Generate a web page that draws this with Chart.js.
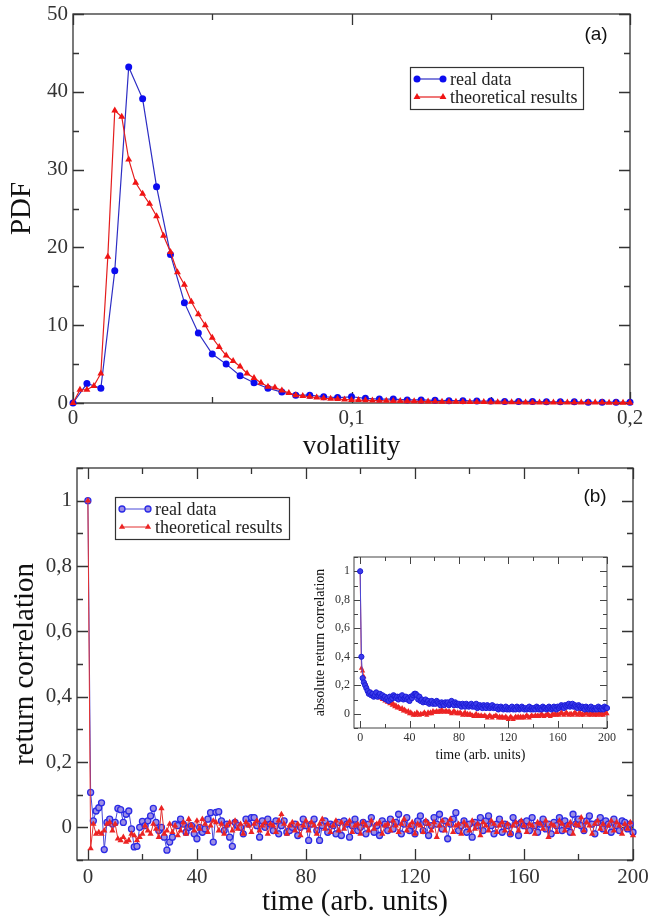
<!DOCTYPE html>
<html>
<head>
<meta charset="utf-8">
<script src="https://cdn.jsdelivr.net/npm/chart.js@4.4.1/dist/chart.umd.min.js"></script>
<style>
  html, body { margin: 0; padding: 0; background: #fff; }
  #wrap { position: relative; width: 649px; height: 917px; }
  canvas { position: absolute; }
  #pdfChart { left: 0; top: 0; }
  #corrChart { left: 0; top: 460px; }
  #absChart { left: 300px; top: 545px; }
</style>
</head>
<body>
<div id="wrap">
  <canvas id="pdfChart" width="649" height="460"></canvas>
  <canvas id="corrChart" width="649" height="457"></canvas>
  <canvas id="absChart" width="320" height="225"></canvas>
</div>
<script>
// ---- panel (a): volatility PDF ----
const realBinStep = 0.005;
const theoBinStep = 0.0025;
const pdfReal = [0, 2.5, 1.9, 17.0, 43.2, 39.1, 27.8, 19.1, 12.9, 9.0, 6.3, 5.0, 3.5, 2.6, 1.9, 1.4,
  1.0, 1.0, 0.8, 0.7, 0.8, 0.6, 0.5, 0.5, 0.4, 0.4, 0.35, 0.3, 0.3, 0.25, 0.25, 0.2, 0.2, 0.2,
  0.15, 0.15, 0.15, 0.1, 0.1, 0.1, 0.1];
const pdfTheo = [0, 1.7, 1.7, 2.2, 3.8, 18.8, 37.6, 36.8, 31.3, 28.3,
  26.9, 25.6, 24.0, 21.5, 19.4, 16.8, 15.2, 13.0, 11.4, 10.0,
  8.4, 7.2, 6.1, 5.4, 4.7, 3.8, 3.2, 2.6, 2.1, 2.0,
  1.6, 1.3, 1.0, 0.9, 0.8, 0.7, 0.6, 0.55, 0.5, 0.45,
  0.4, 0.38, 0.35, 0.33, 0.3, 0.28, 0.26, 0.25, 0.23, 0.22, 0.2,
  0.19, 0.18, 0.17, 0.16, 0.15, 0.14, 0.13, 0.12, 0.12, 0.11,
  0.1, 0.1, 0.09, 0.09, 0.08, 0.08, 0.07, 0.07, 0.07, 0.06,
  0.06, 0.06, 0.05, 0.05, 0.05, 0.05, 0.04, 0.04, 0.04, 0.04];
const pdfXTicks = [0, 0.1, 0.2];
const pdfYTicks = [0, 10, 20, 30, 40, 50];

// ---- panel (b): return correlation, lags 0..200 ----
const corrReal = [1,
  0.107, 0.02, 0.05, 0.06, 0.075, -0.068, 0.015, 0.025, 0.01, 0.015,
  0.058, 0.054, 0.015, 0.04, 0.05, -0.005, -0.06, -0.058, 0, 0.018,
  0.005, 0.02, 0.035, 0.058, 0.015, -0.01, 0, -0.03, -0.07, -0.045,
  -0.03, 0.01, 0.005, 0.025, 0.01, -0.015, 0, 0.005, -0.02, -0.035,
  0, -0.015, -0.005, 0.025, 0.045, -0.045, 0.046, 0.048, 0.02, -0.01,
  0.01, -0.03, -0.058, 0.015, 0.005, 0, -0.02, 0.025, 0.01, 0.03,
  0.03, 0.005, -0.03, 0.02, 0, 0.025, 0.01, -0.01, 0.02, -0.02,
  0.005, 0.02, -0.015, -0.01, 0, 0.01, -0.025, 0, 0.025, 0.005,
  -0.04, 0.01, 0.025, -0.01, -0.04, 0.005, 0.02, -0.015, 0.01, 0.005,
  -0.02, 0.015, -0.025, 0.02, 0.01, -0.03, 0.005, 0.025, -0.01, 0,
  0.015, -0.02, 0.01, 0.03, -0.015, 0.005, -0.025, 0.02, 0.01, -0.01,
  0.025, -0.005, 0.015, 0.04, -0.02, 0.01, 0.03, -0.01, 0.005, -0.02,
  0.02, 0.035, -0.01, 0.015, -0.025, 0.005, 0.03, 0.01, 0.04, -0.005,
  0.02, -0.035, 0.01, 0.025, 0.045, -0.01, 0.005, 0.02, -0.015, 0.01,
  -0.03, 0.015, 0.005, 0.03, -0.01, 0.02, 0.035, 0.005, -0.02, 0.01,
  0.025, -0.015, 0.01, 0.005, -0.02, 0.03, 0.01, -0.025, 0.015, 0.005,
  0.02, -0.01, 0.03, 0.005, -0.015, 0.01, 0.025, -0.005, 0.01, -0.02,
  0.015, 0.005, 0.03, -0.01, 0.02, 0.005, -0.015, 0.04, 0.01, 0.025,
  0.005, -0.01, 0.02, 0.035, 0.01, -0.02, 0.015, 0.03, -0.005, 0.02,
  0.01, -0.015, 0.025, 0.005, -0.01, 0.02, 0.015, -0.005, 0.01, -0.015];
const corrTheo = [1,
  -0.065, 0.01, -0.02, -0.015, -0.02, -0.01, 0.01, 0.015, -0.01, 0.01,
  -0.035, -0.04, -0.03, -0.045, -0.04, -0.02, -0.025, -0.04, -0.03, -0.02,
  0.005, -0.01, -0.02, 0.01, -0.005, -0.03, 0.058, -0.02, -0.01, 0.01,
  -0.015, 0.005, -0.025, -0.01, 0.015, -0.02, 0.025, 0.005, -0.01, 0.02,
  -0.005, 0.025, 0.01, -0.015, 0.005, 0.02, 0.015, -0.01, 0.01, -0.02,
  0.005, 0.015, -0.01, 0.02, -0.005, 0.01, -0.02, 0.015, 0.005, -0.015,
  0.01, 0.02, -0.01, 0.005, 0.015, -0.02, 0.01, 0.005, -0.015, 0.02,
  0.04, 0.01, -0.02, 0.005, 0.015, -0.01, 0.01, -0.025, 0.005, 0.02,
  -0.01, 0.015, 0.005, -0.02, 0.01, 0.025, -0.005, 0.01, -0.015, 0.005,
  0.02, -0.01, 0.015, -0.005, 0.01, 0.02, -0.015, 0.005, 0.01, -0.02,
  0.015, 0.005, -0.01, 0.02, -0.005, 0.01, 0.015, -0.02, 0.005, 0.01,
  -0.01, 0.02, 0.005, -0.015, 0.01, 0.025, -0.01, 0.005, 0.015, -0.02,
  0.01, 0.005, -0.015, 0.02, 0.01, -0.01, 0.015, -0.03, 0.005, 0.02,
  -0.01, 0.01, 0.025, -0.015, 0.005, 0.01, -0.02, 0.015, 0.005, -0.01,
  0.02, -0.005, 0.01, -0.025, 0.015, 0.005, -0.01, 0.02, 0.01, -0.015,
  0.005, 0.015, -0.01, 0.01, -0.02, 0.005, 0.015, -0.01, 0.02, 0.005,
  -0.015, 0.01, 0.005, -0.02, 0.015, 0.01, -0.005, 0.02, -0.03, 0.01,
  0.005, -0.015, 0.02, 0.01, -0.01, 0.005, 0.015, -0.02, 0.01, 0.005,
  0.03, -0.01, 0.015, 0.005, -0.02, 0.01, 0.02, -0.005, 0.01, -0.015,
  0.005, 0.02, -0.01, 0.015, 0.005, -0.02, 0.01, -0.005, 0.015, -0.025];
const corrXTicks = [0, 40, 80, 120, 160, 200];
const corrYTicks = [0, 0.2, 0.4, 0.6, 0.8, 1];

// ---- inset: absolute return correlation, lags 0..200 ----
const absReal = [1,
  0.4, 0.25, 0.22, 0.2, 0.18, 0.16, 0.14, 0.15, 0.13, 0.14,
  0.12, 0.13, 0.15, 0.12, 0.13, 0.14, 0.12, 0.13, 0.11, 0.12,
  0.1, 0.11, 0.09, 0.12, 0.1, 0.11, 0.13, 0.12, 0.11, 0.12,
  0.1, 0.12, 0.11, 0.13, 0.1, 0.11, 0.12, 0.1, 0.11, 0.09,
  0.12, 0.11, 0.13, 0.14, 0.14, 0.13, 0.1, 0.12, 0.09, 0.1,
  0.08, 0.09, 0.1, 0.08, 0.09, 0.07, 0.08, 0.09, 0.07, 0.08,
  0.07, 0.09, 0.08, 0.07, 0.06, 0.08, 0.07, 0.06, 0.08, 0.07,
  0.08, 0.06, 0.07, 0.09, 0.07, 0.06, 0.08, 0.07, 0.06, 0.07,
  0.06, 0.05, 0.07, 0.06, 0.05, 0.07, 0.06, 0.05, 0.06, 0.07,
  0.05, 0.06, 0.05, 0.07, 0.04, 0.05, 0.06, 0.05, 0.04, 0.06,
  0.05, 0.04, 0.06, 0.05, 0.04, 0.05, 0.06, 0.04, 0.05, 0.04,
  0.05, 0.03, 0.04, 0.05, 0.04, 0.03, 0.04, 0.05, 0.03, 0.04,
  0.03, 0.04, 0.05, 0.03, 0.04, 0.03, 0.05, 0.04, 0.03, 0.04,
  0.05, 0.04, 0.03, 0.04, 0.03, 0.04, 0.05, 0.03, 0.04, 0.03,
  0.04, 0.03, 0.05, 0.04, 0.03, 0.04, 0.03, 0.05, 0.04, 0.04,
  0.03, 0.04, 0.05, 0.04, 0.03, 0.04, 0.05, 0.04, 0.03, 0.05,
  0.04, 0.05, 0.06, 0.05, 0.04, 0.06, 0.05, 0.06, 0.07, 0.05,
  0.06, 0.07, 0.05, 0.06, 0.05, 0.04, 0.06, 0.05, 0.04, 0.05,
  0.04, 0.03, 0.05, 0.04, 0.03, 0.04, 0.05, 0.03, 0.04, 0.03,
  0.04, 0.03, 0.05, 0.04, 0.03, 0.04, 0.03, 0.05, 0.04, 0.04];
const absTheo = [1,
  0.32, 0.3, 0.26, 0.22, 0.2, 0.17, 0.15, 0.14, 0.15, 0.13,
  0.14, 0.12, 0.13, 0.12, 0.13, 0.11, 0.12, 0.1, 0.11, 0.09,
  0.1, 0.08, 0.09, 0.07, 0.08, 0.06, 0.07, 0.05, 0.06, 0.04,
  0.05, 0.04, 0.03, 0.04, 0.02, 0.03, 0.02, 0.01, 0.02, 0,
  0.01, 0, -0.01, 0, -0.01, 0.01, 0, -0.01, 0, -0.005,
  0, 0.01, 0, -0.01, 0.01, 0, 0.01, 0, 0.02, 0.01,
  0.01, 0.02, 0.01, 0.02, 0.01, 0.03, 0.02, 0.01, 0.02, 0.02,
  0.01, 0.02, 0.01, 0, 0.01, 0.02, 0.01, 0, 0.01, 0,
  0.01, 0, -0.01, 0, 0.01, -0.01, 0, -0.01, 0, -0.01,
  -0.01, -0.02, -0.01, 0, -0.02, -0.01, -0.02, -0.01, -0.02, -0.02,
  -0.01, -0.02, -0.03, -0.02, -0.01, -0.02, -0.03, -0.02, -0.02, -0.01,
  -0.02, -0.03, -0.02, -0.03, -0.02, -0.03, -0.03, -0.02, -0.03, -0.04,
  -0.03, -0.02, -0.03, -0.04, -0.03, -0.02, -0.03, -0.02, -0.03, -0.02,
  -0.03, -0.02, -0.03, -0.02, -0.01, -0.02, -0.03, -0.02, -0.01, -0.02,
  -0.02, -0.01, -0.02, -0.01, -0.02, -0.01, 0, -0.01, -0.02, -0.01,
  -0.01, 0, -0.01, -0.02, -0.01, 0, -0.01, 0, -0.01, 0,
  -0.01, 0, 0.01, 0, -0.01, 0, 0.01, 0, -0.01, 0,
  0, -0.01, 0, 0.01, 0, -0.01, 0, 0.01, -0.01, 0,
  -0.01, 0, 0.01, 0, -0.01, 0, -0.01, 0.01, 0, -0.01,
  0, -0.01, 0, 0.01, -0.01, 0, -0.01, 0, 0.01, 0];
const absXTicks = [0, 40, 80, 120, 160, 200];
const absYTicks = [0, 0.2, 0.4, 0.6, 0.8, 1];

const SERIF = '"Liberation Serif", "DejaVu Serif", serif';
const SANS = '"Liberation Sans", Arial, sans-serif';

function toPoints(values, step) {
  return values.map((v, i) => ({ x: i * step, y: v }));
}

function drawMarker(ctx, style, x, y, r, fill, stroke, lw) {
  ctx.beginPath();
  if (style === 'triangle') {
    ctx.moveTo(x, y - r);
    ctx.lineTo(x + r * 0.866, y + r * 0.5);
    ctx.lineTo(x - r * 0.866, y + r * 0.5);
    ctx.closePath();
  } else {
    ctx.arc(x, y, r, 0, Math.PI * 2);
  }
  ctx.fillStyle = fill;
  ctx.fill();
  if (lw > 0) {
    ctx.strokeStyle = stroke;
    ctx.lineWidth = lw;
    ctx.stroke();
  }
}

// frame with inward major/minor ticks on all four sides (xmgrace look)
const frameTicks = {
  id: 'frameTicks',
  beforeDatasetsDraw(chart, args, o) {
    const { ctx, chartArea: a, scales: { x, y } } = chart;
    ctx.save();
    ctx.strokeStyle = o.color;
    ctx.lineWidth = o.lineWidth;
    ctx.strokeRect(a.left, a.top, a.right - a.left, a.bottom - a.top);
    ctx.beginPath();
    const run = (scale, step, len, horiz) => {
      const first = Math.ceil(scale.min / step - 1e-9);
      const last = Math.floor(scale.max / step + 1e-9);
      for (let i = first; i <= last; i++) {
        const p = Math.round(scale.getPixelForValue(i * step)) + 0.5;
        if (horiz) {
          ctx.moveTo(p, a.bottom); ctx.lineTo(p, a.bottom - len);
          ctx.moveTo(p, a.top); ctx.lineTo(p, a.top + len);
        } else {
          ctx.moveTo(a.left, p); ctx.lineTo(a.left + len, p);
          ctx.moveTo(a.right, p); ctx.lineTo(a.right - len, p);
        }
      }
    };
    run(x, o.xMinor, o.minorLen, true);
    run(x, o.xMajor, o.majorLen, true);
    run(y, o.yMinor, o.minorLen, false);
    run(y, o.yMajor, o.majorLen, false);
    ctx.stroke();
    ctx.restore();
  }
};

// boxed legend + panel tag drawn inside the plot
const boxLegend = {
  id: 'boxLegend',
  afterDraw(chart, args, o) {
    const ctx = chart.ctx;
    ctx.save();
    if (o.box) {
      const b = o.box;
      ctx.fillStyle = '#fff';
      ctx.fillRect(b.x, b.y, b.w, b.h);
      ctx.strokeStyle = '#333';
      ctx.lineWidth = 1.2;
      ctx.strokeRect(b.x + 0.5, b.y + 0.5, b.w, b.h);
      chart.data.datasets.forEach((ds, i) => {
        const cy = b.y + b.rows[i];
        ctx.strokeStyle = ds.borderColor;
        ctx.lineWidth = ds.borderWidth;
        ctx.beginPath();
        ctx.moveTo(b.x + b.x0, cy);
        ctx.lineTo(b.x + b.x1, cy);
        ctx.stroke();
        [b.x0, b.x1].forEach(px => drawMarker(ctx, ds.pointStyle, b.x + px, cy, ds.pointRadius,
          ds.pointBackgroundColor, ds.pointBorderColor, ds.pointBorderWidth));
        ctx.fillStyle = '#222';
        ctx.font = 'normal ' + b.fontSize + 'px "Liberation Serif", serif';
        ctx.textBaseline = 'middle';
        ctx.textAlign = 'left';
        ctx.fillText(ds.label, b.x + b.tx, cy + 1);
      });
    }
    if (o.tag) {
      ctx.fillStyle = '#111';
      ctx.font = o.tag.size + 'px ' + SANS;
      ctx.textAlign = 'center';
      ctx.textBaseline = 'middle';
      ctx.fillText(o.tag.text, o.tag.x, o.tag.y);
    }
    ctx.restore();
  }
};

function makeAxis(o) {
  return {
    type: 'linear',
    min: o.min,
    max: o.max,
    grid: { display: false, drawTicks: false },
    border: { display: false },
    afterBuildTicks: s => { s.ticks = o.ticks.map(v => ({ value: v })); },
    afterFit: s => {
      if (o.width) s.width = o.width;
      if (o.height) s.height = o.height;
      s.paddingTop = 0; s.paddingBottom = 0; s.paddingLeft = 0; s.paddingRight = 0;
    },
    ticks: {
      color: '#333',
      padding: o.pad,
      maxRotation: 0,
      autoSkip: false,
      font: { family: SERIF, size: o.size },
      callback: v => String(v).replace('.', ',')
    },
    title: {
      display: true,
      text: o.title,
      color: '#111',
      padding: o.titlePad,
      font: { family: SERIF, size: o.titleSize, lineHeight: 1 }
    }
  };
}

function series(label, pts, kind, opts) {
  const blue = kind === 'blue';
  return Object.assign({
    label: label,
    data: pts,
    showLine: true,
    borderColor: blue ? '#2d2dc4' : '#e41c1c',
    borderWidth: 1.2,
    pointStyle: blue ? 'circle' : 'triangle',
    pointRadius: 3.5,
    pointBackgroundColor: blue ? '#0c0cf0' : '#f01414',
    pointBorderColor: blue ? '#0c0cf0' : '#f01414',
    pointBorderWidth: 0,
    tension: 0,
    clip: false
  }, opts || {});
}

const common = {
  responsive: false,
  animation: false,
  devicePixelRatio: 1,
  events: [],
  plugins: { legend: { display: false }, tooltip: { enabled: false } }
};

Chart.register(frameTicks, boxLegend);

// panel (a)
new Chart(document.getElementById('pdfChart'), {
  type: 'scatter',
  data: {
    datasets: [
      series('real data', toPoints(pdfReal, realBinStep), 'blue'),
      series('theoretical results', toPoints(pdfTheo, theoBinStep), 'red', { order: -1, pointRadius: 4 })
    ]
  },
  options: Object.assign({}, common, {
    layout: { padding: { left: 0, right: 19, top: 14, bottom: 0 } },
    scales: {
      x: makeAxis({ min: 0, max: 0.2, ticks: pdfXTicks, size: 21, pad: 3, height: 57,
        title: 'volatility', titleSize: 27, titlePad: { top: 0, bottom: 0 } }),
      y: makeAxis({ min: 0, max: 50, ticks: pdfYTicks, size: 21, pad: 5, width: 73,
        title: 'PDF', titleSize: 29, titlePad: { top: 8, bottom: 0 } })
    },
    plugins: Object.assign({}, common.plugins, {
      frameTicks: { color: '#333', lineWidth: 1.3, xMajor: 0.1, xMinor: 0.05, yMajor: 10, yMinor: 5, majorLen: 11, minorLen: 6 },
      boxLegend: {
        box: { x: 410, y: 67, w: 173, h: 42, rows: [12, 30], x0: 7, x1: 33, tx: 40, fontSize: 18 },
        tag: { text: '(a)', x: 596, y: 35, size: 19 }
      }
    })
  })
});

// panel (b)
const openBlue = { borderColor: '#4848d8', borderWidth: 1, pointBackgroundColor: '#9c8ee4', pointBorderColor: '#2a2ae6', pointBorderWidth: 1.3, pointRadius: 3 };
const redTri = { borderColor: '#e23030', borderWidth: 1, pointBackgroundColor: '#ec2424', pointBorderColor: '#ec2424', pointRadius: 3.6 };

new Chart(document.getElementById('corrChart'), {
  type: 'scatter',
  data: {
    datasets: [
      series('real data', toPoints(corrReal, 1), 'blue', openBlue),
      series('theoretical results', toPoints(corrTheo, 1), 'red', Object.assign({ order: -1 }, redTri))
    ]
  },
  options: Object.assign({}, common, {
    layout: { padding: { left: 0, right: 16, top: 8, bottom: 0 } },
    scales: {
      x: makeAxis({ min: -4, max: 200, ticks: corrXTicks, size: 21, pad: 5, height: 57,
        title: 'time (arb. units)', titleSize: 29, titlePad: { top: 0, bottom: 0 } }),
      y: makeAxis({ min: -0.1, max: 1.1, ticks: corrYTicks, size: 21, pad: 5, width: 77,
        title: 'return correlation', titleSize: 29, titlePad: { top: 11, bottom: 0 } })
    },
    plugins: Object.assign({}, common.plugins, {
      frameTicks: { color: '#333', lineWidth: 1.3, xMajor: 40, xMinor: 20, yMajor: 0.2, yMinor: 0.1, majorLen: 11, minorLen: 6 },
      boxLegend: {
        box: { x: 115, y: 37, w: 174, h: 42, rows: [12, 30], x0: 7, x1: 33, tx: 40, fontSize: 18 },
        tag: { text: '(b)', x: 595, y: 37, size: 19 }
      }
    })
  })
});

// inset
new Chart(document.getElementById('absChart'), {
  type: 'scatter',
  data: {
    datasets: [
      series('real data', toPoints(absReal, 1), 'blue', Object.assign({}, openBlue,
        { pointRadius: 2.6, pointBackgroundColor: '#3c3cea', pointBorderColor: '#1c1cd8', pointBorderWidth: 1 })),
      series('theoretical results', toPoints(absTheo, 1), 'red', Object.assign({}, redTri, { pointRadius: 3 }))
    ]
  },
  options: Object.assign({}, common, {
    layout: { padding: { left: 0, right: 13, top: 12, bottom: 0 } },
    scales: {
      x: makeAxis({ min: -5, max: 200, ticks: absXTicks, size: 12, pad: 3, height: 42,
        title: 'time (arb. units)', titleSize: 14, titlePad: { top: 0, bottom: 8 } }),
      y: makeAxis({ min: -0.1, max: 1.1, ticks: absYTicks, size: 12, pad: 4, width: 54,
        title: 'absolute return correlation', titleSize: 14, titlePad: { top: 13, bottom: 0 } })
    },
    plugins: Object.assign({}, common.plugins, {
      frameTicks: { color: '#444', lineWidth: 1, xMajor: 40, xMinor: 20, yMajor: 0.2, yMinor: 0.1, majorLen: 7, minorLen: 4 },
      boxLegend: {}
    })
  })
});
</script>
</body>
</html>
